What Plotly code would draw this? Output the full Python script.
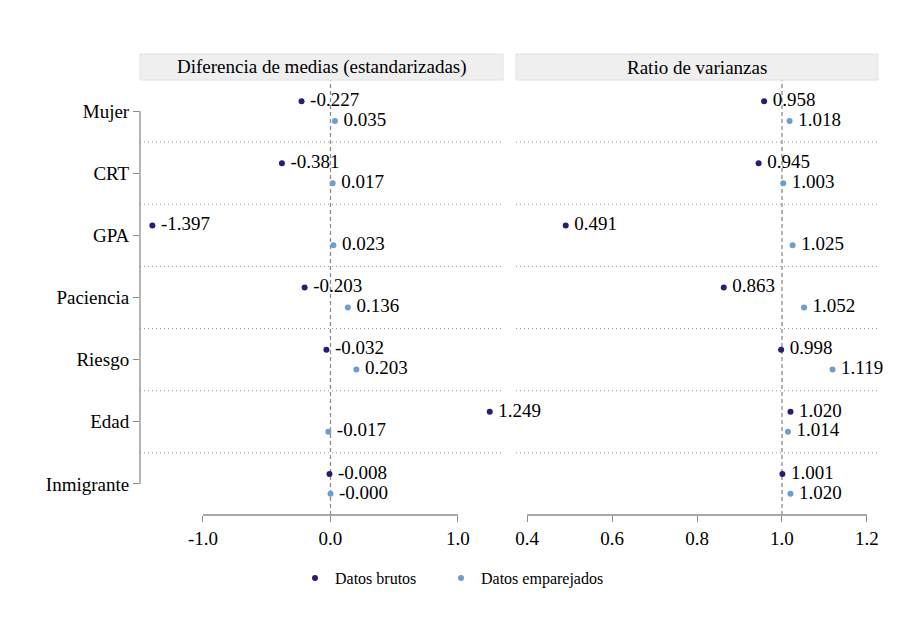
import plotly.graph_objects as go
from plotly.subplots import make_subplots

categories = ["Mujer", "CRT", "GPA", "Paciencia", "Riesgo", "Edad", "Inmigrante"]
diff_raw = [-0.227, -0.381, -1.397, -0.203, -0.032, 1.249, -0.008]
diff_matched = [0.035, 0.017, 0.023, 0.136, 0.203, -0.017, -0.0]
ratio_raw = [0.958, 0.945, 0.491, 0.863, 0.998, 1.020, 1.001]
ratio_matched = [1.018, 1.003, 1.025, 1.052, 1.119, 1.014, 1.020]
panel_titles = ["Diferencia de medias (estandarizadas)", "Ratio de varianzas"]
series_names = ["Datos brutos", "Datos emparejados"]
left_ticks = [-1.0, 0.0, 1.0]
right_ticks = [0.4, 0.6, 0.8, 1.0, 1.2]

RAW_C = "#2c1b6e"
MAT_C = "#6a9fd0"
FONT = "'Liberation Serif', 'Times New Roman', Times, 'DejaVu Serif', serif"
GRAY = "#8c8c8c"
OFF = 0.16
PAD = "\u2009"

fig = make_subplots(rows=1, cols=2, shared_yaxes=False, horizontal_spacing=0.0)

idx = list(range(len(categories)))

def add_pair(raw, mat, col, show):
    fig.add_trace(go.Scatter(
        x=raw, y=[i - OFF for i in idx], mode="markers+text",
        text=[f"{PAD}{v:.3f}" for v in raw], textposition="middle right",
        textfont=dict(family=FONT, size=19, color="black"),
        marker=dict(color=RAW_C, size=6), name=series_names[0], legend="legend",
        showlegend=show, cliponaxis=False, hoverinfo="skip"), row=1, col=col)
    fig.add_trace(go.Scatter(
        x=mat, y=[i + OFF for i in idx], mode="markers+text",
        text=[f"{PAD}{v:.3f}" for v in mat], textposition="middle right",
        textfont=dict(family=FONT, size=19, color="black"),
        marker=dict(color=MAT_C, size=6), name=series_names[1], legend="legend2",
        showlegend=show, cliponaxis=False, hoverinfo="skip"), row=1, col=col)

add_pair(diff_raw, diff_matched, 1, True)
add_pair(ratio_raw, ratio_matched, 2, False)

# browser body margin of 8px is compensated for
BM = 8
W, H = 905 - BM, 636 - BM
ml, mr, mt, mb = 140 - BM, 27, 80 - BM, 121
pw = W - ml - mr
d1 = (503 - 140) / pw
d2 = (516 - 140) / pw

leg_common = dict(orientation="h", xref="container", yref="container",
                  xanchor="left", y=1 - (578 - BM) / H, yanchor="middle",
                  font=dict(family=FONT, size=16, color="black"))

fig.update_layout(
    width=W, height=H, margin=dict(l=ml, r=mr, t=mt, b=mb),
    plot_bgcolor="white", paper_bgcolor="white",
    font=dict(family=FONT, size=19, color="black"),
    legend=dict(x=(315 - 20 - BM) / W, **leg_common),
    legend2=dict(x=(461 - 20 - BM) / W, **leg_common),
    xaxis=dict(domain=[0, d1], range=[-1.494, 1.353], tickvals=left_ticks,
               ticktext=[f"{v:.1f}" for v in left_ticks], showgrid=False,
               zeroline=False, showline=False, ticks="outside", ticklen=6,
               tickcolor=GRAY, tickfont=dict(family=FONT, size=19)),
    xaxis2=dict(domain=[d2, 1], range=[0.374, 1.226], tickvals=right_ticks,
                ticktext=[f"{v:.1f}" for v in right_ticks], showgrid=False,
                zeroline=False, showline=False, ticks="outside", ticklen=6,
                tickcolor=GRAY, tickfont=dict(family=FONT, size=19)),
    yaxis=dict(range=[6.5, -0.5], tickvals=idx, ticktext=categories,
               showgrid=False, zeroline=False, showline=False, ticks="outside",
               ticklen=6, tickcolor=GRAY, tickfont=dict(family=FONT, size=19)),
    yaxis2=dict(range=[6.5, -0.5], showticklabels=False, showgrid=False,
                zeroline=False, showline=False, matches="y"),
)

shapes = []
shapes.append(dict(type="line", xref="paper", yref="y", x0=0, x1=0, y0=0, y1=len(categories) - 1,
                   line=dict(color=GRAY, width=1.3)))
shapes.append(dict(type="line", xref="x", yref="paper", x0=left_ticks[0], x1=left_ticks[-1], y0=0, y1=0,
                   line=dict(color=GRAY, width=1.3)))
shapes.append(dict(type="line", xref="x2", yref="paper", x0=right_ticks[0], x1=right_ticks[-1], y0=0, y1=0,
                   line=dict(color=GRAY, width=1.3)))
shapes.append(dict(type="line", xref="x", yref="paper", x0=0, x1=0, y0=0, y1=1,
                   line=dict(color=GRAY, width=1.3, dash="4px,3px"), layer="below"))
shapes.append(dict(type="line", xref="x2", yref="paper", x0=1, x1=1, y0=0, y1=1,
                   line=dict(color=GRAY, width=1.3, dash="4px,3px"), layer="below"))
for k in range(len(categories) - 1):
    for ax in ["x", "x2"]:
        shapes.append(dict(type="line", xref=f"{ax} domain", yref="y", x0=0, x1=1,
                           y0=k + 0.5, y1=k + 0.5,
                           line=dict(color="#999999", width=1, dash="1px,3px"), layer="below"))
strip_h = 26 / (H - mt - mb)
annotations = []
for ax, title in zip(["x", "x2"], panel_titles):
    shapes.append(dict(type="rect", xref=f"{ax} domain", yref="paper", x0=0, x1=1,
                       y0=1, y1=1 + strip_h, fillcolor="#efefef",
                       line=dict(color="#dce4ea", width=1)))
    annotations.append(dict(xref=f"{ax} domain", yref="paper", x=0.5, y=1 + strip_h / 2,
                            text=title, showarrow=False, xanchor="center", yanchor="middle",
                            font=dict(family=FONT, size=19, color="black")))

fig.update_layout(shapes=shapes, annotations=annotations)
fig.write_html("out.html")
